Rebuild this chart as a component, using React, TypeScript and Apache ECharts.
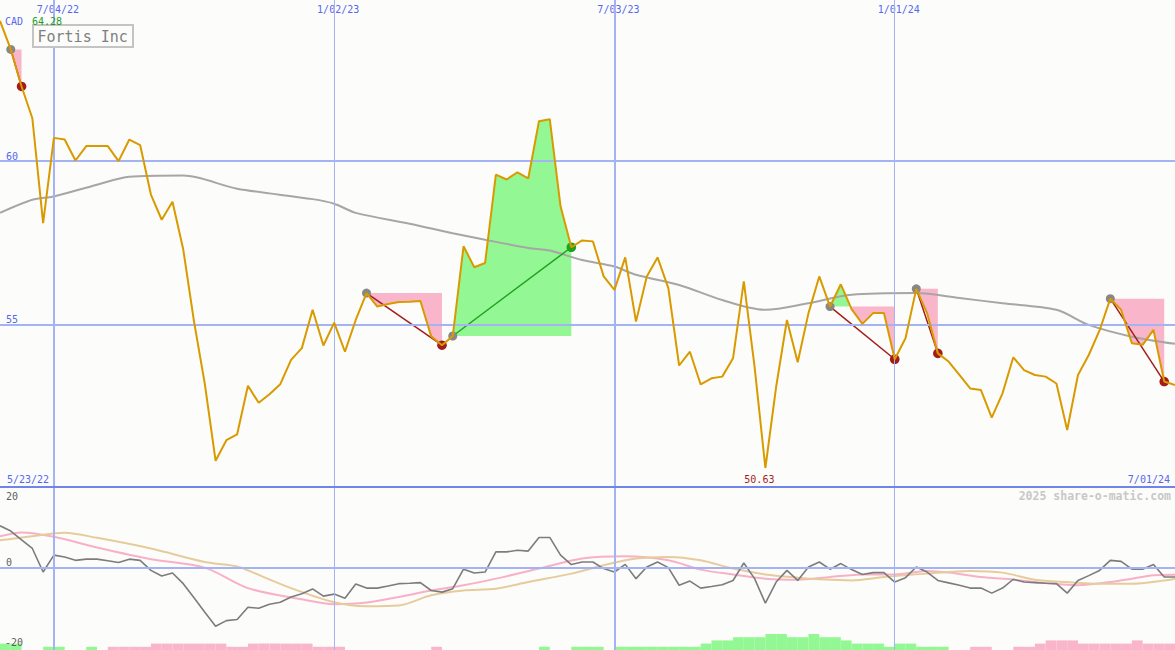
import React, { useEffect, useRef } from 'react';
import * as echarts from 'echarts';

// ---------- data ----------
const startDate = '2022-05-30';
const dateTickDates = ['2022-07-04', '2023-01-02', '2023-07-03', '2024-01-01'];
const dateTickText = ['7/04/22', '1/02/23', '7/03/23', '1/01/24'];
const dateTickWidth = [2, 1, 2, 1];
const firstDateText = '5/23/22';
const lastDateText = '7/01/24';
const currency = 'CAD';
const stockName = 'Fortis Inc';
const watermark = '2025 share-o-matic.com';
const priceTicks = [55, 60];
const oscTicks = [20, 0, -20];

// weekly closing price
const price = [
  64.28, 63.41, 62.28, 61.31, 58.11, 60.71, 60.66, 60.02, 60.46, 60.46,
  60.46, 60.0, 60.66, 60.49, 58.98, 58.21, 58.76, 57.3, 55.1, 53.2,
  50.85, 51.48, 51.66, 53.14, 52.62, 52.88, 53.19, 53.93, 54.29, 55.46,
  54.37, 55.07, 54.18, 55.15, 55.97, 55.56, 55.64, 55.7, 55.71, 55.73,
  54.65, 54.38, 54.66, 57.4, 56.76, 56.89, 59.59, 59.44, 59.66, 59.47,
  61.22, 61.28, 58.62, 57.37, 57.58, 57.55, 56.48, 56.07, 57.06, 55.1,
  56.48, 57.06, 56.12, 53.76, 54.18, 53.18, 53.37, 53.42, 53.98, 56.33,
  53.72, 50.63, 53.11, 55.15, 53.86, 55.36, 56.48, 55.56, 56.24, 55.48,
  55.03, 55.36, 55.36, 53.95, 54.59, 56.1, 55.36, 54.13, 53.88, 53.47,
  53.06, 53.01, 52.17, 52.91, 54.01, 53.62, 53.47, 53.42, 53.21, 51.79,
  53.47, 54.08, 54.83, 55.8, 55.46, 54.44, 54.39, 54.85, 53.27, 53.16,
];

// moving average (week index, value)
const maIdx = [0, 3, 5, 9, 12, 17, 22, 29, 31, 33, 38, 42, 45, 49, 51, 54, 57, 59, 63, 67, 71, 75, 79, 85, 89, 93, 98, 101, 105, 109];
const maVal = [58.42, 58.82, 58.92, 59.28, 59.52, 59.56, 59.16, 58.84, 58.7, 58.42, 58.09, 57.8, 57.6, 57.35, 57.27, 56.98, 56.78, 56.53, 56.22, 55.76, 55.46, 55.66, 55.92, 55.97, 55.82, 55.66, 55.46, 55.0, 54.64, 54.42];

// swings: start (peak/low) -> end
const swingStart = [1, 34, 42, 77, 85, 103];
const swingEnd = [2, 41, 53, 83, 87, 108];

// oscillator (weekly)
const osc = [
  10.5, 9.2, 7.0, 4.85, -1.0, 3.2, 2.75, 1.9, 2.2, 2.2,
  1.8, 1.35, 2.2, 1.9, -0.6, -2.0, -1.25, -3.9, -7.4, -11.0,
  -14.5, -13.1, -12.8, -9.75, -10.0, -9.0, -8.5, -7.2, -6.4, -5.2,
  -7.0, -6.5, -7.5, -4.0, -5.0, -5.0, -4.5, -3.9, -3.8, -3.65,
  -5.6, -6.0, -5.15, -0.3, -1.25, -1.0, 4.0, 4.0, 4.4, 4.2,
  7.6, 7.6, 3.2, 0.85, 1.5, 1.5, -0.15, -1.0, 0.9, -2.65,
  0.25, 1.5, 0.1, -4.3, -3.25, -5.0, -4.6, -4.15, -3.1, 1.25,
  -2.65, -8.75, -3.5, -0.6, -3.1, 0.25, 1.5, -0.3, 1.1, -0.4,
  -1.6, -1.15, -1.15, -3.5, -2.4, 0.25, -1.0, -3.1, -3.7, -4.3,
  -5.0, -5.0, -6.25, -5.0, -2.8, -3.5, -3.65, -3.8, -3.9, -6.25,
  -3.1, -1.9, -0.6, 1.9, 1.65, -0.3, -0.3, 0.85, -2.25, -2.25,
];
const pinkIdx = [0, 2, 5, 9, 14, 19, 23, 28, 31, 34, 37, 40, 43, 46, 50, 54, 58, 62, 65, 68, 71, 74, 77, 80, 83, 86, 88, 91, 94, 97, 100, 103, 105, 107, 109];
const pinkVal = [7.9, 8.85, 7.75, 5.1, 2.2, 0.1, -5.0, -7.8, -9.0, -8.6, -7.2, -5.6, -4.3, -2.65, -0.15, 2.35, 2.9, 1.9, -0.4, -1.6, -2.65, -2.9, -2.25, -1.6, -1.6, -0.75, -1.15, -2.25, -2.9, -3.75, -4.3, -3.5, -2.65, -1.8, -1.65];
const tanIdx = [0, 1, 3, 6, 9, 14, 19, 22, 23, 27, 31, 34, 37, 40, 43, 46, 49, 53, 56, 59, 62, 65, 68, 71, 74, 76, 79, 82, 86, 90, 93, 96, 99, 102, 105, 108, 109];
const tanVal = [6.9, 7.2, 7.9, 8.75, 7.5, 4.85, 1.5, 0.4, -0.6, -5.0, -8.5, -9.5, -9.3, -6.8, -5.6, -5.15, -3.5, -1.4, 0.7, 2.35, 2.75, 1.9, -0.15, -1.6, -2.4, -2.8, -3.1, -2.25, -1.4, -0.75, -1.15, -2.9, -3.5, -3.9, -3.9, -3.1, -2.65];

// bottom histogram levels (signed)
const histo = [
  2, 2, 0, 0, 1, 1, 0, 0, 1, 0,
  -1, -1, -1, -1, -2, -2, -2, -2, -2, -2,
  -2, -1, -1, -2, -2, -2, -2, -2, -2, -1,
  -1, -1, 0, 0, 0, 0, 0, 0, 0, 0,
  -1, 0, 0, 0, 0, 0, 0, 0, 0, 0,
  1, 0, 0, 1, 1, 1, 0, 1, 1, 1,
  1, 1, 1, 1, 1, 2, 3, 3, 4, 4,
  4, 5, 5, 4, 4, 5, 4, 4, 3, 2,
  2, 2, 1, 2, 2, 1, 1, 1, 0, 0,
  -1, -1, 0, 0, -1, -1, -2, -3, -3, -3,
  -2, -2, -2, -2, -2, -3, -2, -2, -2, -2,
];

// ---------- styles ----------
const MONO = '"DejaVu Sans Mono", "Liberation Mono", monospace';
const GRID_BLUE = '#a3b3f3';
const LABEL_BLUE = '#5668f0';
const PRICE_COLOR = '#d99a00';
const PINK_FILL = '#f9b6ca';
const GREEN_FILL = '#93f893';
const DOWN_COLOR = '#a31c1c';
const UP_COLOR = '#22a022';

const DAY = 86400000;
const weeksFromStart = (d: string) => Math.round((Date.parse(d) - Date.parse(startDate)) / (7 * DAY));
const dateIdx = dateTickDates.map(weeksFromStart);
const LAST = price.length - 1;

function swingPieces(s: number, e: number) {
  const L = price[s];
  const pts: number[][] = [];
  for (let k = s; k <= e; k++) {
    if (k > s) {
      const d0 = price[k - 1] - L;
      const d1 = price[k] - L;
      if (d0 * d1 < 0) pts.push([k - 1 + d0 / (d0 - d1), L]);
    }
    pts.push([k, price[k]]);
  }
  const out: { sign: number; pts: number[][] }[] = [];
  let run: number[][] = [];
  let sign = 0;
  const close = () => {
    if (sign !== 0 && run.length >= 2) out.push({ sign, pts: run });
  };
  for (const p of pts) {
    const d = p[1] - L;
    if (Math.abs(d) < 1e-9) {
      run.push(p);
      close();
      run = [p];
      sign = 0;
    } else {
      if (sign === 0) sign = d > 0 ? 1 : -1;
      run.push(p);
    }
  }
  close();
  return out.map((r) => ({
    sign: r.sign,
    poly: [...r.pts, [r.pts[r.pts.length - 1][0], L], [r.pts[0][0], L]],
  }));
}

export default function App() {
  const ref = useRef<HTMLDivElement>(null);

  useEffect(() => {
    document.body.style.margin = '0';
    const chart = echarts.init(ref.current!, null, { renderer: 'svg' });

    const vLines = dateIdx.map((x, k) => ({
      xAxis: x,
      lineStyle: { color: GRID_BLUE, width: dateTickWidth[k], type: 'solid' },
    }));
    const swingData = swingStart.map((s, k) => [s, swingEnd[k], price[s]]);

    const option: any = {
      animation: false,
      backgroundColor: '#fcfdfa',
      grid: [
        { left: 0, right: 0, top: 0, height: 487 },
        { left: 0, right: 0, top: 488, height: 162 },
        { left: 0, right: 0, top: 634, height: 16 },
      ],
      xAxis: [
        {
          type: 'value', gridIndex: 0, min: 0, max: LAST, position: 'top',
          axisLine: { show: false }, axisTick: { show: false }, splitLine: { show: false },
          axisLabel: {
            inside: true, customValues: dateIdx,
            formatter: (v: number) => {
              const k = dateIdx.indexOf(Math.round(v));
              return k >= 0 ? dateTickText[k] : '';
            },
            color: LABEL_BLUE, fontFamily: MONO, fontSize: 10, margin: 4, padding: [0, 0, 0, 8],
          },
        },
        { type: 'value', gridIndex: 1, min: 0, max: LAST, show: false },
        { type: 'value', gridIndex: 2, min: 0, max: LAST, show: false },
      ],
      yAxis: [
        {
          type: 'value', gridIndex: 0, min: 50.05, max: 64.92,
          axisLine: { show: false }, axisTick: { show: false }, splitLine: { show: false },
          axisLabel: {
            inside: true, customValues: priceTicks, color: LABEL_BLUE, fontFamily: MONO,
            fontSize: 10, margin: 6, verticalAlign: 'bottom',
          },
        },
        { type: 'value', gridIndex: 1, min: -20.4, max: 19.9, show: false },
        { type: 'value', gridIndex: 2, min: 0, max: 5, show: false },
      ],
      series: [
        // grid lines for price panel
        {
          type: 'line', xAxisIndex: 0, yAxisIndex: 0, z: 1, silent: true, symbol: 'none',
          data: price.map((v, i) => [i, v]), lineStyle: { opacity: 0 },
          markLine: {
            silent: true, symbol: ['none', 'none'], label: { show: false },
            data: [
              ...priceTicks.map((y) => ({ yAxis: y, lineStyle: { color: GRID_BLUE, width: 2, type: 'solid' } })),
              ...vLines,
            ],
          },
        },
        // swing fills
        {
          type: 'custom', xAxisIndex: 0, yAxisIndex: 0, z: 2, silent: true, clip: true,
          data: swingData, encode: { x: [0, 1], y: 2 },
          renderItem: (params: any, api: any) => {
            const k = params.dataIndex;
            const pieces = swingPieces(swingStart[k], swingEnd[k]);
            return {
              type: 'group',
              children: pieces.map((p) => ({
                type: 'polygon',
                shape: { points: p.poly.map((q) => api.coord(q)) },
                style: { fill: p.sign > 0 ? GREEN_FILL : PINK_FILL },
              })),
            };
          },
        },
        // moving average
        {
          type: 'line', xAxisIndex: 0, yAxisIndex: 0, z: 3, silent: true, symbol: 'none', smooth: 0.3,
          data: maIdx.map((x, k) => [x, maVal[k]]),
          lineStyle: { color: '#a6a6a6', width: 2 },
        },
        // swing connectors and dots
        {
          type: 'custom', xAxisIndex: 0, yAxisIndex: 0, z: 4, silent: true, clip: false,
          data: swingData, encode: { x: [0, 1], y: 2 },
          renderItem: (params: any, api: any) => {
            const k = params.dataIndex;
            const s = swingStart[k];
            const e = swingEnd[k];
            const a = api.coord([s, price[s]]);
            const b = api.coord([e, price[e]]);
            const up = price[e] > price[s];
            const c = up ? UP_COLOR : DOWN_COLOR;
            return {
              type: 'group',
              children: [
                { type: 'line', shape: { x1: a[0], y1: a[1], x2: b[0], y2: b[1] }, style: { stroke: c, lineWidth: 1.5 } },
                { type: 'circle', shape: { cx: a[0], cy: a[1], r: 4.5 }, style: { fill: '#878787' } },
                { type: 'circle', shape: { cx: b[0], cy: b[1], r: 4.8 }, style: { fill: c } },
              ],
            };
          },
        },
        // price
        {
          type: 'line', xAxisIndex: 0, yAxisIndex: 0, z: 5, silent: true, symbol: 'none',
          data: price.map((v, i) => [i, v]),
          lineStyle: { color: PRICE_COLOR, width: 2 },
        },
        // grid lines for oscillator panel
        {
          type: 'line', xAxisIndex: 1, yAxisIndex: 1, z: 1, silent: true, symbol: 'none',
          data: osc.map((v, i) => [i, v]), lineStyle: { opacity: 0 },
          markLine: {
            silent: true, symbol: ['none', 'none'], label: { show: false },
            data: [
              { yAxis: 0, lineStyle: { color: GRID_BLUE, width: 2, type: 'solid' } },
              ...vLines,
            ],
          },
        },
        {
          type: 'line', xAxisIndex: 1, yAxisIndex: 1, z: 3, silent: true, symbol: 'none', smooth: 0.3,
          data: pinkIdx.map((x, k) => [x, pinkVal[k]]),
          lineStyle: { color: '#f8b0c8', width: 2 },
        },
        {
          type: 'line', xAxisIndex: 1, yAxisIndex: 1, z: 3, silent: true, symbol: 'none', smooth: 0.3,
          data: tanIdx.map((x, k) => [x, tanVal[k]]),
          lineStyle: { color: '#e6cc9c', width: 2 },
        },
        {
          type: 'line', xAxisIndex: 1, yAxisIndex: 1, z: 4, silent: true, symbol: 'none',
          data: osc.map((v, i) => [i, v]),
          lineStyle: { color: '#7c7c7c', width: 1.6 },
        },
        // bottom histogram
        {
          type: 'custom', xAxisIndex: 2, yAxisIndex: 2, z: 2, silent: true, clip: true,
          data: histo.map((v, i) => [i, Math.abs(v), v]), encode: { x: 0, y: 1 },
          renderItem: (params: any, api: any) => {
            const i = api.value(0);
            const h = api.value(1);
            const sgn = api.value(2);
            if (!h) return null;
            const p0 = api.coord([i, 0]);
            const p1 = api.coord([i + 1, h]);
            return {
              type: 'rect',
              shape: { x: p0[0], y: p1[1], width: p1[0] - p0[0], height: p0[1] - p1[1] },
              style: { fill: sgn > 0 ? GREEN_FILL : PINK_FILL },
            };
          },
        },
      ],
    };
    chart.setOption(option);

    // labels that depend on data positions
    let minI = 0;
    let maxI = 0;
    price.forEach((v, i) => {
      if (v < price[minI]) minI = i;
      if (v > price[maxI]) maxI = i;
    });
    const minPx = chart.convertToPixel({ xAxisIndex: 0, yAxisIndex: 0 } as any, [minI, price[minI]]) as number[];

    const txt = (x: number, y: number, text: string, fill: string, extra: any = {}) => ({
      type: 'text', x, y, z: 100, silent: true,
      style: { text, fill, font: `10px ${MONO}`, textVerticalAlign: 'middle', ...extra },
    });

    chart.setOption({
      graphic: [
        { type: 'rect', z: 90, silent: true, shape: { x: 0, y: 486, width: 1175, height: 2 }, style: { fill: '#7283ea' } },
        txt(5, 21, currency, LABEL_BLUE),
        txt(32, 21, price[maxI].toFixed(2), '#1e9e1e'),
        {
          type: 'rect', z: 95, silent: true,
          shape: { x: 33, y: 25, width: 100, height: 22 },
          style: { fill: '#fcfdfa', stroke: '#c4c4c4', lineWidth: 2 },
        },
        txt(37.5, 36.5, stockName, '#808080', { font: `15px ${MONO}` }),
        txt(7, 479, firstDateText, LABEL_BLUE),
        txt(minPx[0] - 6, 479, price[minI].toFixed(2), '#a51e1e', { textAlign: 'center' }),
        txt(1170, 479, lastDateText, LABEL_BLUE, { textAlign: 'right' }),
        txt(1171, 496, watermark, '#c8c8c8', { textAlign: 'right', font: `bold 11.5px ${MONO}` }),
        txt(6, 496, String(oscTicks[0]), '#606060'),
        txt(6, 562, String(oscTicks[1]), '#606060'),
        txt(5, 642, String(oscTicks[2]), '#606060'),
      ],
    });

    return () => chart.dispose();
  }, []);

  return <div ref={ref} style={{ width: 1175, height: 650 }} />;
}
